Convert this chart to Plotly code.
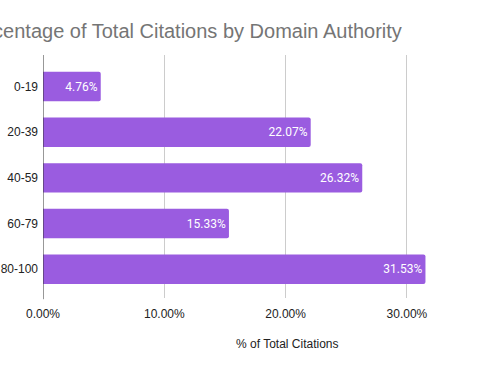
import plotly.graph_objects as go

categories = ["0-19", "20-39", "40-59", "60-79", "80-100"]
values = [4.76, 22.07, 26.32, 15.33, 31.53]
bar_labels = ["4.76%", "22.07%", "26.32%", "15.33%", "31.53%"]
x_ticks = [0, 10, 20, 30]
x_tick_labels = ["0.00%", "10.00%", "20.00%", "30.00%"]

W, H = 495, 371
ml, mt = 43, 55
mb = H - 298
mr = 0
pw = W - ml - mr
ph = H - mt - mb
px_per_unit = 12.13
xmax = pw / px_per_unit

fig = go.Figure(go.Bar(
    y=categories, x=values, orientation="h",
    marker=dict(color="#9a5ce0", cornerradius=2, line=dict(width=0)),
    text=bar_labels, textposition="inside", insidetextanchor="end",
    textfont=dict(color="white", size=12, family="Roboto"),
    cliponaxis=False,
))

fig.update_layout(
    width=W, height=H,
    margin=dict(l=ml, t=mt, b=mb, r=mr, autoexpand=False),
    plot_bgcolor="white", paper_bgcolor="white",
    bargap=0.355,
    showlegend=False,
    font=dict(family="Liberation Sans, Arial", color="#222222", size=12),
    xaxis=dict(range=[0, xmax], tickvals=x_ticks, ticktext=x_tick_labels,
               showgrid=True, gridcolor="#cccccc", gridwidth=1, automargin=False,
               zeroline=False, showline=False, ticks="", ticklabelstandoff=7,
               tickfont=dict(size=12, color="#222222")),
    yaxis=dict(range=[4.63, -0.69], showgrid=False, zeroline=False, automargin=False,
               showline=False, ticks="", ticklabelstandoff=4,
               tickfont=dict(size=12, color="#222222")),
    shapes=[dict(type="line", xref="x", yref="paper", x0=0, x1=0, y0=-0.005, y1=1,
                 line=dict(color="#333333", width=1))],
    annotations=[
        dict(text="Percentage of Total Citations by Domain Authority",
             xref="paper", yref="paper", x=(404 - ml) / pw, y=1 + (55 - 31) / ph,
             xanchor="right", yanchor="middle", showarrow=False,
             font=dict(size=20, color="#757575", family="Liberation Sans, Arial")),
        dict(text="% of Total Citations", xref="paper", yref="paper",
             x=(287 - ml) / pw, y=-(344 - 298) / ph,
             xanchor="center", yanchor="middle", showarrow=False,
             font=dict(size=12, color="#222222")),
    ],
)

fig.write_html("out.html", config={"displayModeBar": False},
               post_script="document.body.style.margin='0';")
